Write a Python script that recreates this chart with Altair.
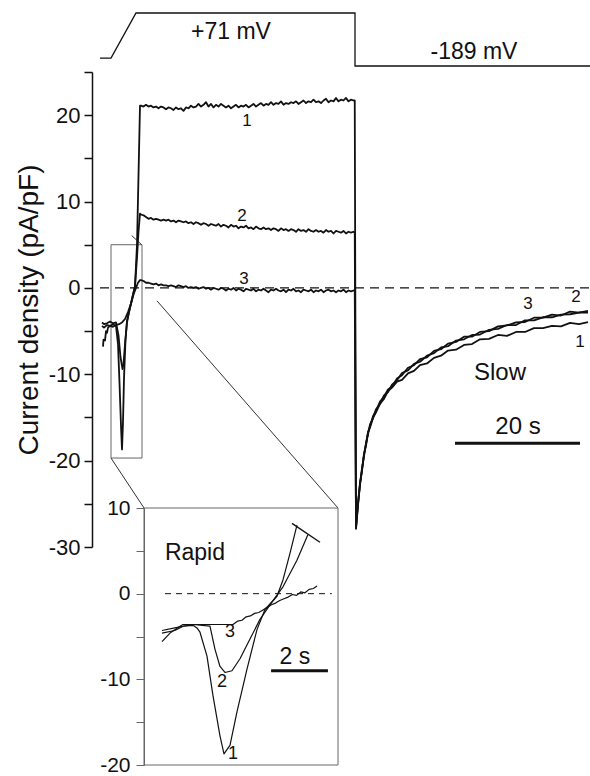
import altair as alt
import pandas as pd

FONT = "Liberation Sans"
INK = "#111111"
FRAME = "#666666"

# ---------------------------------------------------------------------------
# Scale geometry inside the plot group (pixels from the group's top-left)
# ---------------------------------------------------------------------------
MAIN_T_DOMAIN = [-3.04, 76.64]      # s
MAIN_T_RANGE = [0, 498]
MAIN_I_DOMAIN = [-30, 25]           # pA/pF
MAIN_I_RANGE = [547, 72]
INSET_T_DOMAIN = [0, 6.93]          # s (expanded time base)
INSET_T_RANGE = [52, 246]
INSET_I_DOMAIN = [-20, 10]
INSET_I_RANGE = [765, 508]
PROTO_DOMAIN = [-189, 71]           # mV
PROTO_RANGE = [66, 13]

# ---------------------------------------------------------------------------
# Voltage protocol
# ---------------------------------------------------------------------------
PROTO_T = [-1.76, 0.0, 4.0, 39.04, 39.04, 76.64]
PROTO_MV = [-150, -150, 71, 71, -189, -189]

# ---------------------------------------------------------------------------
# Current traces 1-3 (main panel)
# ---------------------------------------------------------------------------
PRE_T1 = [-1.44, -1.12, -0.64, -0.16, 0.32, 0.8, 1.12, 1.36, 1.6, 1.76, 1.92,
          2.08, 2.32, 2.56, 2.88, 3.2, 3.52, 3.84, 4.16, 4.4, 4.64]
PRE_I1 = [-4.4, -4.6, -4.3, -4.4, -4.2, -4.4, -6.5, -11.0, -16.0, -18.7, -15.5,
          -10.5, -6.0, -3.8, -2.8, -1.8, -0.8, 0.2, 5.0, 13.0, 21.1]
PRE_T2 = [-1.44, -1.12, -0.64, -0.16, 0.32, 0.8, 1.2, 1.52, 1.84, 2.0, 2.24,
          2.56, 2.88, 3.2, 3.52, 3.84, 4.16, 4.4, 4.64]
PRE_I2 = [-4.0, -4.2, -4.1, -3.9, -4.1, -4.0, -5.5, -8.0, -9.4, -8.8, -6.5,
          -4.0, -2.8, -1.8, -0.8, 0.2, 3.5, 6.5, 8.6]
PRE_T3 = [-1.28, -1.2, -0.96, -0.8, -0.64, -0.48, -0.16, 0.32, 0.8, 1.28, 1.76,
          2.24, 2.72, 3.2, 3.68, 4.0, 4.32, 4.64]
PRE_I3 = [-6.8, -6.0, -6.1, -5.0, -5.2, -4.6, -4.4, -4.5, -4.3, -4.2, -4.0,
          -3.6, -2.8, -1.8, -0.6, 0.0, 0.6, 0.9]

PLATEAU_T = [4.8, 5.2, 5.6, 6.0, 6.4, 6.8, 7.2, 7.6, 8.0, 8.4,
             8.8, 9.2, 9.6, 10.0, 10.4, 10.8, 11.2, 11.6, 12.0, 12.4,
             12.8, 13.2, 13.6, 14.0, 14.4, 14.8, 15.2, 15.6, 16.0, 16.4,
             16.8, 17.2, 17.6, 18.0, 18.4, 18.8, 19.2, 19.6, 20.0, 20.4,
             20.8, 21.2, 21.6, 22.0, 22.4, 22.8, 23.2, 23.6, 24.0, 24.4,
             24.8, 25.2, 25.6, 26.0, 26.4, 26.8, 27.2, 27.6, 28.0, 28.4,
             28.8, 29.2, 29.6, 30.0, 30.4, 30.8, 31.2, 31.6, 32.0, 32.4,
             32.8, 33.2, 33.6, 34.0, 34.4, 34.8, 35.2, 35.6, 36.0, 36.4,
             36.8, 37.2, 37.6, 38.0, 38.4, 38.8, 39.0]
PLATEAU_I1 = [21.1, 21.0, 21.2, 21.0, 21.1, 20.9, 21.0, 20.8, 21.0, 20.9,
              20.7, 20.9, 20.8, 20.6, 20.9, 20.7, 20.8, 20.5, 20.9, 20.8,
              21.1, 20.9, 21.0, 21.3, 21.0, 21.2, 21.5, 21.0, 21.3, 20.9,
              21.2, 21.0, 21.3, 21.1, 20.9, 21.1, 20.8, 21.0, 21.2, 20.9,
              21.1, 21.0, 21.2, 20.9, 21.1, 21.3, 21.0, 21.2, 21.4, 21.1,
              21.3, 21.2, 21.5, 21.2, 21.4, 21.3, 21.6, 21.2, 21.4, 21.3,
              21.5, 21.4, 21.6, 21.3, 21.5, 21.7, 21.4, 21.6, 21.5, 21.8,
              21.5, 21.6, 21.4, 21.7, 21.9, 21.5, 21.7, 21.6, 22.0, 21.6,
              21.8, 21.7, 22.0, 21.6, 21.8, 21.7, 21.7]
PLATEAU_I2 = [8.5, 8.4, 8.2, 8.0, 8.1, 7.9, 8.0, 7.9, 7.8, 7.9,
              7.8, 7.9, 7.7, 7.8, 7.6, 7.8, 7.7, 7.6, 7.7, 7.5,
              7.6, 7.4, 7.6, 7.5, 7.3, 7.5, 7.4, 7.2, 7.4, 7.3,
              7.2, 7.4, 7.1, 7.3, 7.2, 7.0, 7.3, 7.1, 7.2, 6.9,
              7.1, 7.0, 7.2, 6.9, 7.0, 6.8, 7.1, 6.9, 6.8, 7.0,
              6.8, 6.9, 6.7, 6.9, 6.8, 6.6, 6.9, 6.7, 6.8, 6.6,
              6.8, 6.7, 6.5, 6.8, 6.6, 6.7, 6.5, 6.8, 6.6, 6.5,
              6.7, 6.5, 6.6, 6.4, 6.7, 6.5, 6.6, 6.3, 6.6, 6.5,
              6.4, 6.6, 6.3, 6.5, 6.4, 6.5, 6.4]
PLATEAU_I3 = [0.9, 0.8, 0.6, 0.6, 0.5, 0.4, 0.5, 0.3, 0.4, 0.3,
              0.3, 0.2, 0.3, 0.2, 0.1, 0.3, 0.2, 0.1, 0.2, 0.0,
              0.1, 0.0, 0.1, -0.1, 0.0, 0.1, -0.1, 0.0, -0.2, 0.0,
              -0.1, -0.2, 0.0, -0.1, -0.3, -0.1, -0.2, 0.0, -0.3, -0.1,
              -0.2, -0.4, -0.1, -0.2, -0.3, -0.1, -0.4, -0.2, -0.3, -0.1,
              -0.3, -0.5, -0.2, -0.3, -0.1, -0.3, -0.4, -0.2, -0.5, -0.2,
              -0.3, -0.1, -0.4, -0.3, -0.5, -0.2, -0.3, -0.4, -0.2, -0.5,
              -0.3, -0.4, -0.2, -0.5, -0.3, -0.2, -0.4, -0.3, -0.5, -0.3,
              -0.4, -0.2, -0.5, -0.3, -0.4, -0.3, -0.3]

TAIL_T = [39.2, 39.52, 39.84, 40.16, 40.48, 40.8, 41.12, 41.44, 41.92, 42.4,
          43.04, 43.68, 44.32, 44.96, 45.76, 46.56, 47.52, 48.48, 49.44, 50.56,
          51.68, 52.8, 53.92, 55.2, 56.48, 57.76, 59.04, 60.48, 61.92, 63.36,
          64.8, 66.24, 67.68, 69.12, 70.56, 72.0, 73.44, 74.88, 76.32]
TAIL_I1 = [-27.9, -25.2, -22.7, -21.2, -19.25, -18.25, -16.8, -16.15, -15.05, -14.4,
           -13.4, -12.85, -11.95, -11.55, -10.85, -10.65, -9.9, -9.6, -8.95, -8.75,
           -8.1, -7.85, -7.25, -7.15, -6.6, -6.5, -5.95, -5.9, -5.45, -5.55,
           -5.1, -5.1, -4.65, -4.65, -4.4, -4.45, -4.05, -4.2, -3.95]
TAIL_I2 = [-27.8, -25.0, -22.6, -21.05, -19.25, -18.1, -16.7, -16.05, -14.85, -14.25,
           -13.15, -12.6, -11.75, -11.45, -10.5, -10.1, -9.25, -8.95, -8.25, -8.05,
           -7.3, -7.1, -6.45, -6.25, -5.65, -5.65, -5.1, -5.0, -4.45, -4.35,
           -4.0, -3.95, -3.45, -3.45, -3.1, -3.2, -2.75, -2.85, -2.65]
TAIL_I3 = [-27.7, -24.9, -22.8, -20.9, -19.5, -17.95, -16.95, -15.8, -15.1, -14.05,
           -13.45, -12.45, -12.05, -11.2, -10.7, -9.85, -9.55, -8.8, -8.55, -7.85,
           -7.55, -6.9, -6.75, -6.1, -5.95, -5.45, -5.4, -4.85, -4.75, -4.3,
           -4.3, -3.75, -3.75, -3.4, -3.4, -3.1, -3.05, -2.85, -2.85]

# Region of the main record that is expanded in the inset
ZOOM_T = [0.0, 4.96]
ZOOM_I = [-19.7, 5.0]
ZOOM_CAP = [[3.31, 6.06], [4.91, 5.0]]
CONNECTOR_FROM = [[0.0, -19.7], [7.36, -1.5]]

# ---------------------------------------------------------------------------
# Inset ("Rapid") traces on the expanded time base
# ---------------------------------------------------------------------------
INSET_T1 = [0.643, 1.1, 1.4, 1.75, 1.893, 2.0, 2.25, 2.464, 2.714, 2.857, 3.071,
            3.321, 3.679, 4.036, 4.321, 4.75, 4.964, 5.214, 5.464]
INSET_I1 = [-4.3, -4.0, -3.8, -3.7, -4.0, -4.5, -7.3, -11.9, -16.6, -18.7, -17.7,
            -13.8, -8.8, -4.2, -1.85, -0.3, 1.6, 4.7, 8.0]
INSET_T2 = [0.643, 1.1, 1.4, 1.75, 2.357, 2.536, 2.714, 2.893, 3.143, 3.429,
            3.786, 4.143, 4.5, 4.964, 5.464, 5.857]
INSET_I2 = [-4.6, -4.3, -3.8, -3.6, -3.8, -6.5, -8.5, -9.2, -9.0, -7.6,
            -5.3, -3.0, -1.3, 0.8, 3.9, 6.9]
INSET_T3 = [0.643, 0.929, 1.286, 1.393, 1.821, 2.5, 3.179, 3.35, 3.5, 3.65,
            3.8, 3.95, 4.1, 4.25, 4.4, 4.55, 4.7, 4.85, 5.0, 5.15,
            5.3, 5.45, 5.6, 5.75, 5.9, 6.05, 6.18]
INSET_I3 = [-5.6, -4.6, -3.8, -3.6, -3.6, -3.6, -3.6, -3.2, -3.1, -2.7,
            -2.6, -2.3, -2.2, -1.9, -1.6, -1.3, -1.1, -0.8, -0.6, -0.4,
            -0.1, -0.2, 0.2, 0.1, 0.5, 0.6, 0.9]
INSET_CAP = [[5.286, 8.2], [6.286, 6.0]]

# ---------------------------------------------------------------------------
# Annotations
# ---------------------------------------------------------------------------
MAIN_ZERO_T = [-1.76, 76.64]
MAIN_BAR_T = [55.04, 75.04]
MAIN_BAR_I = -18.0
MAIN_NUM_TEXT = ["1", "2", "3", "3", "2", "1"]
MAIN_NUM_T = [21.76, 20.96, 21.28, 66.7, 74.4, 75.04]
MAIN_NUM_I = [19.35, 8.27, 1.05, -1.9, -1.1, -6.3]
MAIN_WORD_TEXT = ["Slow", "20 s"]
MAIN_WORD_T = [62.24, 65.12]
MAIN_WORD_I = [-9.9, -16.1]

INSET_ZERO_T = [0.75, 6.71]
INSET_BAR_T = [4.54, 6.57]
INSET_BAR_I = -9.0
INSET_NUM_TEXT = ["3", "2", "1"]
INSET_NUM_T = [3.07, 2.79, 3.18]
INSET_NUM_I = [-4.5, -10.3, -18.7]
INSET_WORD_TEXT = ["Rapid", "2 s"]
INSET_WORD_T = [1.82, 5.39]
INSET_WORD_I = [4.75, -7.4]

PROTO_TEXT = ["+71 mV", "-189 mV"]
PROTO_TEXT_T = [19.2, 58.08]
PROTO_TEXT_MV = [-22.2, -120.3]


def lin(v, dom, rng):
    return rng[0] + (v - dom[0]) / (dom[1] - dom[0]) * (rng[1] - rng[0])


def inset_to_main(u, i):
    px = lin(u, INSET_T_DOMAIN, INSET_T_RANGE)
    py = lin(i, INSET_I_DOMAIN, INSET_I_RANGE)
    return (lin(px, MAIN_T_RANGE, MAIN_T_DOMAIN), lin(py, MAIN_I_RANGE, MAIN_I_DOMAIN))


# ---------------------------------------------------------------------------
# Encodings
# ---------------------------------------------------------------------------
main_x_scale = alt.Scale(domain=MAIN_T_DOMAIN, range=MAIN_T_RANGE, zero=False, nice=False)
main_y_scale = alt.Scale(domain=MAIN_I_DOMAIN, range=MAIN_I_RANGE, zero=False, nice=False)
inset_x_scale = alt.Scale(domain=INSET_T_DOMAIN, range=INSET_T_RANGE, zero=False, nice=False)
inset_y_scale = alt.Scale(domain=INSET_I_DOMAIN, range=INSET_I_RANGE, zero=False, nice=False)
proto_x_scale = alt.Scale(domain=MAIN_T_DOMAIN, range=MAIN_T_RANGE, zero=False, nice=False)
proto_y_scale = alt.Scale(domain=PROTO_DOMAIN, range=PROTO_RANGE, zero=False, nice=False)

LABEL_EXPR = "datum.value % 10 === 0 ? '' + datum.value : ''"

main_axis = alt.Axis(
    values=list(range(-30, 30, 5)), labelExpr=LABEL_EXPR, grid=False,
    domainColor=INK, domainWidth=1.5, tickColor=INK, tickWidth=1.5, tickSize=8,
    labelFont=FONT, labelFontSize=22, labelColor=INK, labelPadding=4,
    title="Current density (pA/pF)", titleFont=FONT, titleFontSize=28,
    titleFontWeight="normal", titleColor=INK, titlePadding=5,
)
inset_axis = alt.Axis(
    orient="left", offset=-52, values=list(range(-20, 15, 5)), labelExpr=LABEL_EXPR,
    grid=False, domainColor=FRAME, domainWidth=1, tickColor=FRAME, tickWidth=1,
    tickSize=8, labelFont=FONT, labelFontSize=21, labelColor=INK, labelPadding=6,
    title=None,
)


def mx(f="t"):
    return alt.X(f"{f}:Q", scale=main_x_scale, axis=None)


def my(f="v"):
    return alt.Y(f"{f}:Q", scale=main_y_scale, axis=main_axis)


def ix(f="t"):
    return alt.X(f"{f}:Q", scale=inset_x_scale, axis=None)


def iy(f="v"):
    return alt.Y(f"{f}:Q", scale=inset_y_scale, axis=inset_axis)


def series(parts):
    rows = []
    for name, ts, vs in parts:
        assert len(ts) == len(vs), name
        for k, (a, b) in enumerate(zip(ts, vs)):
            rows.append({"trace": name, "i": k, "t": a, "v": b})
    return pd.DataFrame(rows)


# ---------------------------------------------------------------------------
# Main panel
# ---------------------------------------------------------------------------
main_df = series([
    ("1", PRE_T1 + PLATEAU_T + TAIL_T, PRE_I1 + PLATEAU_I1 + TAIL_I1),
    ("2", PRE_T2 + PLATEAU_T + TAIL_T, PRE_I2 + PLATEAU_I2 + TAIL_I2),
    ("3", PRE_T3 + PLATEAU_T + TAIL_T, PRE_I3 + PLATEAU_I3 + TAIL_I3),
])
traces = alt.Chart(main_df).mark_line(color=INK, strokeWidth=1.8, strokeJoin="round").encode(
    x=mx(), y=my(), detail="trace:N", order="i:Q")

zero_line = alt.Chart(pd.DataFrame({"t": MAIN_ZERO_T, "v": [0, 0]})).mark_line(
    color=INK, strokeWidth=1.4, strokeDash=[9, 6]).encode(x=mx(), y=my())

zoom_box = alt.Chart(pd.DataFrame({"t": [ZOOM_T[0]], "t2": [ZOOM_T[1]],
                                   "v": [ZOOM_I[0]], "v2": [ZOOM_I[1]]})).mark_rect(
    fillOpacity=0, stroke=FRAME, strokeWidth=1).encode(
    x=mx(), x2="t2:Q", y=my(), y2="v2:Q")

corners = [inset_to_main(INSET_T_DOMAIN[0], INSET_I_DOMAIN[1]),
           inset_to_main(INSET_T_DOMAIN[1], INSET_I_DOMAIN[1])]
seg_df = pd.DataFrame({
    "t": [CONNECTOR_FROM[0][0], CONNECTOR_FROM[1][0], ZOOM_CAP[0][0]],
    "v": [CONNECTOR_FROM[0][1], CONNECTOR_FROM[1][1], ZOOM_CAP[0][1]],
    "t2": [corners[0][0], corners[1][0], ZOOM_CAP[1][0]],
    "v2": [corners[0][1], corners[1][1], ZOOM_CAP[1][1]],
})
connectors = alt.Chart(seg_df).mark_rule(color="#333333", strokeWidth=1).encode(
    x=mx(), x2="t2:Q", y=my(), y2="v2:Q")

main_bar = alt.Chart(pd.DataFrame({"t": [MAIN_BAR_T[0]], "t2": [MAIN_BAR_T[1]],
                                   "v": [MAIN_BAR_I]})).mark_rule(
    color=INK, strokeWidth=3).encode(x=mx(), x2="t2:Q", y=my())

main_nums = alt.Chart(pd.DataFrame({"txt": MAIN_NUM_TEXT, "t": MAIN_NUM_T, "v": MAIN_NUM_I})).mark_text(
    font=FONT, fontSize=17, color=INK, align="center", baseline="middle").encode(
    x=mx(), y=my(), text="txt:N")
main_words = alt.Chart(pd.DataFrame({"txt": MAIN_WORD_TEXT, "t": MAIN_WORD_T, "v": MAIN_WORD_I})).mark_text(
    font=FONT, fontSize=24, color=INK, align="center", baseline="middle").encode(
    x=mx(), y=my(), text="txt:N")

main_panel = alt.layer(zoom_box, connectors, zero_line, traces, main_bar, main_nums, main_words)

# ---------------------------------------------------------------------------
# Inset panel
# ---------------------------------------------------------------------------
inset_df = series([("1", INSET_T1, INSET_I1), ("2", INSET_T2, INSET_I2), ("3", INSET_T3, INSET_I3)])
inset_traces = alt.Chart(inset_df).mark_line(color=INK, strokeWidth=1.2, strokeJoin="round").encode(
    x=ix(), y=iy(), detail="trace:N", order="i:Q")

inset_frame = alt.Chart(pd.DataFrame({"t": [INSET_T_DOMAIN[0]], "t2": [INSET_T_DOMAIN[1]],
                                      "v": [INSET_I_DOMAIN[0]], "v2": [INSET_I_DOMAIN[1]]})).mark_rect(
    fillOpacity=0, stroke=FRAME, strokeWidth=1).encode(x=ix(), x2="t2:Q", y=iy(), y2="v2:Q")

inset_zero = alt.Chart(pd.DataFrame({"t": INSET_ZERO_T, "v": [0, 0]})).mark_line(
    color=INK, strokeWidth=1, strokeDash=[6, 5]).encode(x=ix(), y=iy())

inset_cap = alt.Chart(pd.DataFrame({"t": [INSET_CAP[0][0]], "t2": [INSET_CAP[1][0]],
                                    "v": [INSET_CAP[0][1]], "v2": [INSET_CAP[1][1]]})).mark_rule(
    color=INK, strokeWidth=1.4).encode(x=ix(), x2="t2:Q", y=iy(), y2="v2:Q")

inset_bar = alt.Chart(pd.DataFrame({"t": [INSET_BAR_T[0]], "t2": [INSET_BAR_T[1]],
                                    "v": [INSET_BAR_I]})).mark_rule(
    color=INK, strokeWidth=3).encode(x=ix(), x2="t2:Q", y=iy())

inset_nums = alt.Chart(pd.DataFrame({"txt": INSET_NUM_TEXT, "t": INSET_NUM_T, "v": INSET_NUM_I})).mark_text(
    font=FONT, fontSize=18, color=INK, align="center", baseline="middle").encode(
    x=ix(), y=iy(), text="txt:N")
inset_words = alt.Chart(pd.DataFrame({"txt": INSET_WORD_TEXT, "t": INSET_WORD_T, "v": INSET_WORD_I})).mark_text(
    font=FONT, fontSize=23, color=INK, align="center", baseline="middle").encode(
    x=ix(), y=iy(), text="txt:N")

inset_panel = alt.layer(inset_frame, inset_zero, inset_traces, inset_cap, inset_bar, inset_nums, inset_words)

# ---------------------------------------------------------------------------
# Voltage protocol
# ---------------------------------------------------------------------------
proto_line = alt.Chart(pd.DataFrame({"t": PROTO_T, "mv": PROTO_MV, "i": list(range(len(PROTO_T)))})).mark_line(
    color=INK, strokeWidth=1.3).encode(
    x=alt.X("t:Q", scale=proto_x_scale, axis=None),
    y=alt.Y("mv:Q", scale=proto_y_scale, axis=None),
    order="i:Q")
proto_text = alt.Chart(pd.DataFrame({"txt": PROTO_TEXT, "t": PROTO_TEXT_T, "mv": PROTO_TEXT_MV})).mark_text(
    font=FONT, fontSize=23, color=INK, align="center", baseline="middle").encode(
    x=alt.X("t:Q", scale=proto_x_scale, axis=None),
    y=alt.Y("mv:Q", scale=proto_y_scale, axis=None),
    text="txt:N")
proto_panel = alt.layer(proto_line, proto_text)

chart = alt.layer(main_panel, inset_panel, proto_panel).resolve_scale(
    x="independent", y="independent"
).properties(
    width=498, height=776,
    padding={"left": 92, "top": 0, "right": 0, "bottom": 0},
    autosize=alt.AutoSizeParams(type="none"),
    background="white",
).configure_view(stroke=None)

chart.save("out.html", embed_options={"renderer": "svg", "actions": False})
